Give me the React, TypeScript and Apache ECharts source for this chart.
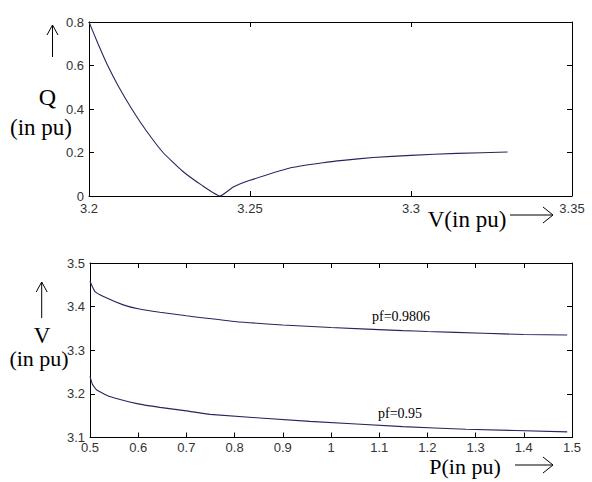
import React, { useEffect, useRef } from "react";
import * as echarts from "echarts";

// Top chart: Q vs V
const qvV = [3.2, 3.2028, 3.2058, 3.2093, 3.2133, 3.2178, 3.223, 3.229, 3.235, 3.2407, 3.2448, 3.25, 3.2624, 3.2727, 3.2789, 3.2882, 3.3, 3.3143, 3.33];
const qvQ = [0.8, 0.7, 0.6, 0.5, 0.4, 0.3, 0.2, 0.115, 0.05, 0, 0.041, 0.072, 0.129, 0.153, 0.164, 0.177, 0.187, 0.196, 0.202];

// Bottom chart: V vs P
const pHi = [0.5, 0.51, 0.528, 0.569, 0.6, 0.645, 0.7, 0.8, 0.9, 1.0, 1.149, 1.2, 1.316, 1.4, 1.49];
const vHi = [3.458, 3.435, 3.423, 3.404, 3.395, 3.387, 3.379, 3.366, 3.358, 3.352, 3.345, 3.343, 3.339, 3.336, 3.335];
const pLo = [0.5, 0.505, 0.514, 0.541, 0.6, 0.645, 0.7, 0.749, 0.956, 1.149, 1.28, 1.49];
const vLo = [3.24, 3.222, 3.209, 3.194, 3.177, 3.169, 3.161, 3.153, 3.137, 3.125, 3.119, 3.113];

const topXTicks = [3.2, 3.25, 3.3, 3.35];
const topYTicks = [0, 0.2, 0.4, 0.6, 0.8];
const botXTicks = [0.5, 0.6, 0.7, 0.8, 0.9, 1, 1.1, 1.2, 1.3, 1.4, 1.5];
const botYTicks = [3.1, 3.2, 3.3, 3.4, 3.5];

const LINE = "#26265c";
const SANS = "'Liberation Sans', Arial, sans-serif";
const SERIF = "'Liberation Serif', 'Times New Roman', 'DejaVu Serif', serif";
const fmt = (v: number) => String(parseFloat(v.toFixed(4)));

function range(t: number[]) {
  return { min: t[0], max: t[t.length - 1], interval: parseFloat((t[1] - t[0]).toFixed(4)) };
}

function axis(kind: "x" | "y", grid: number, ticks: number[], position: string, labels: boolean, margin: number) {
  return {
    type: "value",
    gridIndex: grid,
    position,
    ...range(ticks),
    axisLine: { show: true, onZero: false, lineStyle: { color: "#000", width: 1 } },
    axisTick: { show: true, inside: true, length: 5, lineStyle: { color: "#000", width: 1 } },
    splitLine: { show: false },
    axisLabel: {
      show: labels,
      formatter: fmt,
      fontFamily: SANS,
      fontSize: 13,
      color: "#333",
      margin,
      showMinLabel: true,
      showMaxLabel: true,
    },
  };
}

function arrowUp(x: number, y1: number, y2: number) {
  return [
    { type: "line", shape: { x1: x, y1: y2, x2: x, y2: y1 }, style: { stroke: "#000", lineWidth: 1 } },
    { type: "polyline", shape: { points: [[x - 5.5, y1 + 10], [x, y1], [x + 5.5, y1 + 10]] }, style: { stroke: "#000", lineWidth: 1, fill: null } },
  ];
}
function arrowRight(y: number, x1: number, x2: number) {
  return [
    { type: "line", shape: { x1, y1: y, x2, y2: y }, style: { stroke: "#000", lineWidth: 1 } },
    { type: "polyline", shape: { points: [[x2 - 10, y - 8], [x2, y], [x2 - 10, y + 8]] }, style: { stroke: "#000", lineWidth: 1, fill: null } },
  ];
}
function serif(text: string, x: number, y: number, size: number) {
  return {
    type: "text",
    x,
    y,
    style: { text, fontFamily: SERIF, fontSize: size, fill: "#000", align: "center", verticalAlign: "middle" },
  };
}

const lineSeries = (xi: number, data: number[][]) => ({
  type: "line",
  xAxisIndex: xi,
  yAxisIndex: xi,
  data,
  showSymbol: false,
  smooth: 0.15,
  lineStyle: { color: LINE, width: 1.1 },
});

export default function App() {
  const ref = useRef<HTMLDivElement>(null);
  useEffect(() => {
    if (!ref.current) return;
    const chart = echarts.init(ref.current, undefined, { renderer: "svg" });
    chart.setOption({
      animation: false,
      backgroundColor: "#fff",
      grid: [
        { left: 89, top: 22, width: 483, height: 174 },
        { left: 90, top: 263, width: 482, height: 174.5 },
      ],
      xAxis: [
        axis("x", 0, topXTicks, "bottom", true, 6),
        axis("x", 0, topXTicks, "top", false, 6),
        axis("x", 1, botXTicks, "bottom", true, 3),
        axis("x", 1, botXTicks, "top", false, 3),
      ],
      yAxis: [
        axis("y", 0, topYTicks, "left", true, 5),
        axis("y", 0, topYTicks, "right", false, 5),
        axis("y", 1, botYTicks, "left", true, 5),
        axis("y", 1, botYTicks, "right", false, 5),
      ],
      series: [
        lineSeries(0, qvV.map((v, i) => [v, qvQ[i]])),
        lineSeries(2, pHi.map((p, i) => [p, vHi[i]])),
        lineSeries(2, pLo.map((p, i) => [p, vLo[i]])),
      ],
      graphic: [
        ...arrowUp(52.5, 25, 57),
        serif("Q", 47.5, 97, 24),
        serif("(in pu)", 41, 127, 23),
        serif("V(in pu)", 467, 219, 23),
        ...arrowRight(215, 510, 553),
        ...arrowUp(41.7, 282, 318),
        serif("V", 42, 335, 23),
        serif("(in pu)", 39, 358, 22),
        serif("P(in pu)", 465, 466.5, 22),
        ...arrowRight(465, 515, 553),
        serif("pf=0.9806", 401, 316, 14),
        serif("pf=0.95", 400, 413, 14),
      ],
    });
    return () => chart.dispose();
  }, []);
  return <div ref={ref} style={{ position: "absolute", left: 0, top: 0, width: 592, height: 482 }} />;
}
